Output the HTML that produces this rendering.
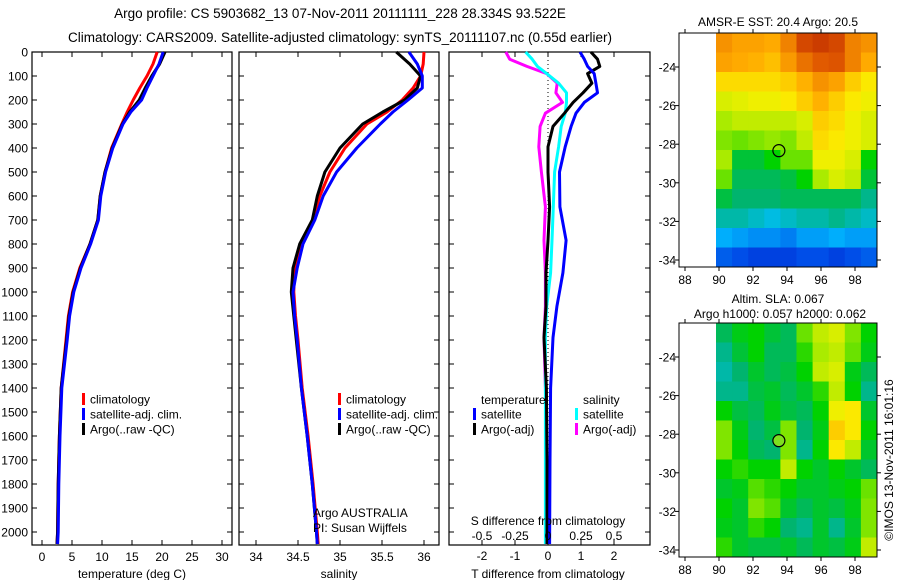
<!DOCTYPE html>
<html><head><meta charset="utf-8"><style>
body{margin:0;background:#fff}
svg{display:block;font-family:"Liberation Sans",sans-serif}
</style></head><body>
<svg id="c" width="900" height="580" viewBox="0 0 900 580">
<text x="340" y="18" font-size="13.5" text-anchor="middle">Argo profile: CS 5903682_13 07-Nov-2011 20111111_228 28.334S 93.522E</text>
<text x="340" y="42" font-size="13.5" text-anchor="middle">Climatology: CARS2009. Satellite-adjusted climatology: synTS_20111107.nc (0.55d earlier)</text>
<g id="g"></g>
</svg>
<script>
// ---- profile data ----
const depths=[0,50,100,150,200,250,300,400,500,600,700,800,900,1000,1100,1200,1400,1600,1800,2000,2050];
const tempClim=[19.2,18.5,17.5,16.3,15.2,14.2,13.3,11.6,10.5,9.7,9.3,8.0,6.3,5.1,4.4,4.0,3.2,2.9,2.7,2.6,2.5];
const tempSat=[20.2,19.5,18.5,17.5,16.6,14.8,13.5,11.8,10.6,9.8,9.4,8.1,6.5,5.3,4.6,4.2,3.3,3.0,2.8,2.7,2.6];
const tempArgo=[20.5,19.6,18.3,17.2,16.2,14.6,13.4,11.7,10.5,9.7,9.3,8.0,6.4,5.2,4.5,4.1,3.2,2.9,2.7,2.6,2.5];
const salClim=[36.0,35.99,35.96,35.87,35.74,35.56,35.32,35.06,34.88,34.76,34.68,34.55,34.46,34.45,34.47,34.5,34.55,34.62,34.68,34.73,34.74];
const salSat=[35.82,35.92,35.98,35.98,35.81,35.63,35.48,35.20,34.96,34.80,34.70,34.56,34.49,34.44,34.46,34.49,34.54,34.61,34.67,34.72,34.73];
const salArgo=[35.67,35.83,35.96,35.92,35.77,35.51,35.27,35.0,34.82,34.73,34.67,34.52,34.44,34.42,34.45,34.48,34.54,34.61,34.67,34.72,34.73];
const diffDepths=[0,30,60,90,130,170,210,255,310,395,500,645,785,920,1060,1190,1400,1700,2050];
const tDiffSat=[0.97,1.1,1.2,1.4,1.45,1.5,1.1,0.85,0.7,0.52,0.35,0.36,0.55,0.45,0.27,0.15,0.08,0.06,0.05];
const tDiffArgo=[1.3,1.5,1.57,1.2,1.33,1.06,0.76,0.5,0.15,0.0,0.0,0.05,0.0,-0.06,-0.06,-0.12,-0.05,-0.03,-0.03];
const sDiffSat=[-0.17,-0.12,-0.08,-0.01,0.08,0.14,0.14,0.13,0.1,0.08,0.05,0.04,0.03,0.02,-0.01,-0.02,-0.02,-0.02,-0.02];
const sDiffArgo=[-0.32,-0.29,-0.16,-0.01,0.07,0.06,0.11,-0.02,-0.06,-0.07,-0.05,-0.02,-0.03,-0.02,-0.02,-0.03,-0.02,-0.01,-0.01];
const depthTicks=[0,100,200,300,400,500,600,700,800,900,1000,1100,1200,1300,1400,1500,1600,1700,1800,1900,2000];
const tempTicks=[0,5,10,15,20,25,30];
const salTicks=[34,34.5,35,35.5,36];
const salTickLabels=["34","34.5","35","35.5","36"];
const tDiffTicks=[-2,-1,0,1,2];
const sDiffTicks=[-0.5,-0.25,0,0.25,0.5];
const sDiffTickLabels=["-0.5","-0.25","0","0.25","0.5"];
// ---- map data (10 cols x 12 rows, normalised colour index) ----
const sstGrid=[
[.78,.76,.76,.75,.8,.88,.9,.88,.8,.78],
[.76,.75,.74,.72,.77,.82,.85,.86,.8,.75],
[.68,.68,.68,.68,.7,.74,.78,.76,.7,.66],
[.62,.63,.64,.64,.66,.7,.74,.7,.66,.64],
[.58,.6,.6,.6,.6,.62,.7,.68,.64,.62],
[.56,.55,.56,.57,.56,.6,.68,.66,.64,.62],
[.58,.45,.45,.5,.55,.55,.64,.64,.62,.5],
[.55,.42,.42,.42,.44,.5,.58,.62,.6,.45],
[.44,.4,.4,.4,.42,.42,.42,.42,.42,.38],
[.36,.36,.34,.32,.34,.36,.36,.38,.36,.34],
[.28,.26,.24,.24,.22,.26,.26,.28,.26,.26],
[.18,.16,.14,.14,.14,.16,.16,.14,.16,.18]];
const slaGrid=[
[.42,.48,.5,.45,.42,.55,.6,.62,.56,.5],
[.38,.45,.5,.42,.42,.52,.58,.6,.55,.48],
[.36,.4,.46,.42,.44,.5,.6,.62,.48,.42],
[.38,.38,.44,.46,.42,.46,.52,.6,.5,.38],
[.5,.44,.42,.48,.44,.42,.5,.64,.66,.46],
[.56,.48,.4,.44,.56,.4,.48,.7,.66,.5],
[.56,.5,.42,.4,.56,.38,.5,.66,.6,.46],
[.5,.52,.5,.5,.6,.5,.46,.5,.46,.42],
[.46,.48,.54,.52,.5,.46,.46,.48,.5,.55],
[.5,.46,.56,.54,.46,.42,.46,.44,.48,.56],
[.48,.46,.52,.5,.4,.38,.46,.38,.46,.56],
[.52,.46,.44,.44,.46,.42,.46,.44,.48,.6]];
const latTicks=[-24,-26,-28,-30,-32,-34];
const lonTicks=[88,90,92,94,96,98];
const argoLon=93.522, argoLat=-28.334;

const NS='http://www.w3.org/2000/svg';
const G=document.getElementById('g');
function mk(tag,attrs,parent){const e=document.createElementNS(NS,tag);for(const k in attrs)e.setAttribute(k,attrs[k]);(parent||G).appendChild(e);return e;}
function txt(x,y,s,size,anchor,parent){const e=mk('text',{x:x,y:y,'font-size':size,'text-anchor':anchor||'start'},parent);e.textContent=s;return e;}

const TOP=52,BOT=545;
const yD=d=>TOP+0.24*d;
const xT=t=>42+6*t;
const xS=s=>256+84*(s-34);
const xTD=t=>548+33*t;
const xSD=s=>548+132*s;

function panel(x0,x1,name,xticks,xfun){
  const g=mk('g',{});
  
  
  mk('rect',{x:x0,y:TOP,width:x1-x0,height:BOT-TOP,fill:'none',stroke:'#000','stroke-width':1.2},g);
  depthTicks.forEach(d=>{mk('line',{x1:x0,x2:x0+5,y1:yD(d),y2:yD(d),stroke:'#000'},g);mk('line',{x1:x1,x2:x1-5,y1:yD(d),y2:yD(d),stroke:'#000'},g);});
  xticks.forEach(v=>{const x=xfun(v);mk('line',{x1:x,x2:x,y1:TOP,y2:TOP+5,stroke:'#000'},g);mk('line',{x1:x,x2:x,y1:BOT,y2:BOT-5,stroke:'#000'},g);});
  return g;
}
function line(xs,ys,xf,yf,color,w,name,parent){
  const pts=xs.map((v,i)=>xf(v).toFixed(1)+','+yf(ys[i]).toFixed(1)).join(' ');
  const p=mk('polyline',{points:pts,fill:'none',stroke:color,'stroke-width':w,'stroke-linejoin':'round'},parent);
  
  
  return p;
}
const ya=mk('g',{});


depthTicks.forEach(d=>txt(28,yD(d)+4.5,String(d),12,'end',ya));

const p1=panel(32,232,'temperature-panel',tempTicks,xT);
tempTicks.forEach(t=>txt(xT(t),561,String(t),12,'middle',p1));
txt(132,578,'temperature (deg C)',12,'middle',p1);
line(tempClim,depths,xT,yD,'#f00',3,'temp-climatology-line',p1);
line(tempArgo,depths,xT,yD,'#000',3,'temp-argo-line',p1);
line(tempSat,depths,xT,yD,'#00f',3,'temp-satellite-line',p1);

const p2=panel(239,439,'salinity-panel',salTicks,xS);
salTicks.forEach((s,i)=>txt(xS(s),561,salTickLabels[i],12,'middle',p2));
txt(339,578,'salinity',12,'middle',p2);
line(salClim,depths,xS,yD,'#f00',3,'sal-climatology-line',p2);
line(salArgo,depths,xS,yD,'#000',3,'sal-argo-line',p2);
line(salSat,depths,xS,yD,'#00f',3,'sal-satellite-line',p2);
txt(313,517,'Argo AUSTRALIA',12,'start',p2);
txt(313,532,'PI: Susan Wijffels',12,'start',p2);

function legend(x,y,items,name){
  const g=mk('g',{});
  
  
  items.forEach((it,i)=>{
    if(it[0])mk('rect',{x:x,y:y+i*15-6,width:3,height:12,fill:it[0]},g);
    txt(x+(it[0]?8:0),y+i*15+4.5,it[1],12,'start',g);
  });
}
legend(82,399,[['#f00','climatology'],['#00f','satellite-adj. clim.'],['#000','Argo(..raw -QC)']],'temperature-legend');
legend(338,399,[['#f00','climatology'],['#00f','satellite-adj. clim.'],['#000','Argo(..raw -QC)']],'salinity-legend');

const p3=panel(449,650,'difference-panel',tDiffTicks,xTD);
mk('line',{x1:548,x2:548,y1:TOP,y2:BOT,stroke:'#000','stroke-dasharray':'1,3'},p3);
line(sDiffArgo,diffDepths,xSD,yD,'#f0f',3,'sal-diff-argo-line',p3);
line(sDiffSat,diffDepths,xSD,yD,'#0ff',3,'sal-diff-satellite-line',p3);
line(tDiffArgo,diffDepths,xTD,yD,'#000',3,'temp-diff-argo-line',p3);
line(tDiffSat,diffDepths,xTD,yD,'#00f',3,'temp-diff-satellite-line',p3);
tDiffTicks.forEach(t=>txt(xTD(t),560,String(t),12,'middle',p3));
txt(548,578,'T difference from climatology',12,'middle',p3);
sDiffTicks.forEach((s,i)=>txt(xSD(s),540,sDiffTickLabels[i],12,'middle',p3));
txt(548,525,'S difference from climatology',12,'middle',p3);
legend(473,399,[[null,'     '],['#00f','satellite'],['#000','Argo(-adj)']],'temp-diff-legend');
txt(481,404,'temperature',12,'start',p3);
legend(575,399,[[null,''],['#0ff','satellite'],['#f0f','Argo(-adj)']],'sal-diff-legend');
txt(583,404,'salinity',12,'start',p3);

// colour map (piecewise stops)
const cmStops=[[0,[0,0,140]],[0.15,[0,70,230]],[0.3,[0,190,255]],[0.4,[0,180,110]],[0.5,[0,210,0]],[0.58,[170,235,0]],[0.65,[250,240,0]],[0.75,[255,170,0]],[0.85,[225,90,0]],[1,[160,0,0]]];
function cmap(v){
  for(let i=1;i<cmStops.length;i++){
    if(v<=cmStops[i][0]){const a=cmStops[i-1],b=cmStops[i];const f=(v-a[0])/(b[0]-a[0]);
      return 'rgb('+a[1].map((c,k)=>Math.round(c+(b[1][k]-c)*f)).join(',')+')';}
  }
  return 'rgb(160,0,0)';
}
function map(top,grid,name,fillMarker){
  const g=mk('g',{});
  
  
  const L=679,R=877,B=top+234;
  const xL=lon=>685+17*(lon-88);
  const yL=lat=>top+34+19.3*(-24-lat);
  const dx0=716,cw=(R-dx0)/10,ch=(B-top)/12;
  grid.forEach((row,j)=>row.forEach((v,i)=>{
    const c=mk('rect',{x:(dx0+i*cw).toFixed(2),y:(top+j*ch).toFixed(2),width:(cw+0.5).toFixed(2),height:(ch+0.5).toFixed(2),fill:cmap(v)},g);
    
    
  }));
  mk('rect',{x:L,y:top,width:R-L,height:B-top,fill:'none',stroke:'#000'},g);
  latTicks.forEach(l=>{const y=yL(l);mk('line',{x1:L-4,x2:L,y1:y,y2:y,stroke:'#000'},g);mk('line',{x1:R,x2:R+4,y1:y,y2:y,stroke:'#000'},g);txt(676,y+4.5,String(l),12,'end',g);});
  lonTicks.forEach(l=>{const x=xL(l);mk('line',{x1:x,x2:x,y1:top-4,y2:top,stroke:'#000'},g);mk('line',{x1:x,x2:x,y1:B,y2:B+4,stroke:'#000'},g);txt(x,B+17,String(l),12,'middle',g);});
  const m=mk('circle',{cx:xL(argoLon),cy:yL(argoLat),r:6,fill:fillMarker,stroke:'#000','stroke-width':1.2},g);
  
  
}
map(33,sstGrid,'sst-map','none');
map(323,slaGrid,'sla-map','#7fdf20');
txt(778,26,'AMSR-E SST: 20.4  Argo: 20.5',12,'middle');
txt(778,303,'Altim. SLA: 0.067',12,'middle');
txt(780,318,'Argo h1000: 0.057  h2000: 0.062',12,'middle');
const cr=txt(0,0,'©IMOS 13-Nov-2011 16:01:16',12,'middle');
cr.setAttribute('transform','translate(893,460) rotate(-90)');


</script>
</body></html>
